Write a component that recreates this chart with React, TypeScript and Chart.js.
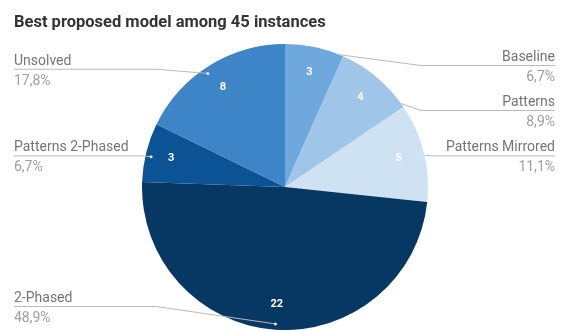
import React, { useEffect, useRef } from "react";
import { Chart, registerables } from "chart.js";

Chart.register(...registerables);

const TITLE = "Best proposed model among 45 instances";
const categories = ["Baseline", "Patterns", "Patterns Mirrored", "2-Phased", "Patterns 2-Phased", "Unsolved"];
const counts = [3, 4, 5, 22, 3, 8];
const sliceColors = ["#6fa8dc", "#9fc5e8", "#cfe2f3", "#073763", "#0b5394", "#3d85c6"];

const FONT = "Roboto, 'Noto Sans', Arial, sans-serif";
const LABEL_TOP = 65;
const LABEL_BOTTOM = 306;
const LABEL_GAP = 45;
const LEFT_X = 14;
const RIGHT_X = 555;

const fmtPct = (v: number, total: number) => ((v / total) * 100).toFixed(1).replace(".", ",") + "%";

const sheetLabels = {
  id: "sheetLabels",
  afterDatasetsDraw(chart: any) {
    const ctx: CanvasRenderingContext2D = chart.ctx;
    const meta = chart.getDatasetMeta(0);
    const data = chart.data.datasets[0].data as number[];
    const labels = chart.data.labels as string[];
    const total = data.reduce((a, b) => a + b, 0);
    ctx.save();

    // title
    ctx.font = `bold 16.5px ${FONT}`;
    ctx.fillStyle = "#333333";
    ctx.textAlign = "left";
    ctx.textBaseline = "alphabetic";
    ctx.fillText(TITLE, LEFT_X, 27);

    const items: any[] = [];
    meta.data.forEach((arc: any, i: number) => {
      const p = arc.getProps(["x", "y", "startAngle", "endAngle", "outerRadius"], true);
      const mid = (p.startAngle + p.endAngle) / 2;
      const R = p.outerRadius;
      ctx.font = `bold 11px ${FONT}`;
      ctx.fillStyle = "#ffffff";
      ctx.textAlign = "center";
      ctx.textBaseline = "middle";
      ctx.fillText(String(data[i]), p.x + Math.cos(mid) * R * 0.82, p.y + Math.sin(mid) * R * 0.82);
      items.push({
        i,
        right: Math.cos(mid) >= 0,
        mid,
        start: p.startAngle,
        end: p.endAngle,
        cx: p.x,
        cy: p.y,
        R,
        desired: p.y + Math.sin(mid) * R + 3,
      });
    });

    [true, false].forEach((side) => {
      const group = items.filter((it) => it.right === side).sort((a, b) => a.desired - b.desired);
      group.forEach((it, k) => {
        let y = Math.min(Math.max(it.desired, LABEL_TOP), LABEL_BOTTOM);
        if (k > 0) y = Math.max(y, group[k - 1].ly + LABEL_GAP);
        it.ly = y;
      });
      for (let k = group.length - 1; k >= 0; k--) {
        const lim = k === group.length - 1 ? LABEL_BOTTOM : group[k + 1].ly - LABEL_GAP;
        group[k].ly = Math.min(group[k].ly, lim);
      }
    });

    items.forEach((it) => {
      const edgeX = it.right ? RIGHT_X : LEFT_X;
      // anchor: where the label's line height meets the rim, kept inside the slice (mid-angle for wide slices)
      let ang = it.mid;
      if (it.end - it.start < Math.PI / 2) {
        const s = Math.max(-1, Math.min(1, (it.ly - it.cy) / it.R));
        let a = it.right ? Math.asin(s) : Math.PI - Math.asin(s);
        while (a < it.start) a += Math.PI * 2;
        while (a > it.start + Math.PI * 2) a -= Math.PI * 2;
        const margin = 0.03;
        if (a > it.end - margin) {
          // choose closer of the two bounds (circular)
          const dEnd = a - (it.end - margin);
          const dStart = it.start + Math.PI * 2 + margin - a;
          a = dEnd < dStart ? it.end - margin : it.start + margin;
        }
        ang = a;
      }
      const inner = it.right ? 1.0 : 0.96;
      const ax = it.cx + Math.cos(ang) * it.R * inner;
      const ay = it.cy + Math.sin(ang) * it.R * inner;
      const elbowX = it.right
        ? Math.max(ax + 8, it.cx + it.R * 0.95)
        : Math.min(ax - 8, it.cx - it.R * 0.9);
      ctx.strokeStyle = "#b9b9b9";
      ctx.lineWidth = 1;
      ctx.beginPath();
      ctx.moveTo(edgeX, it.ly + 0.5);
      ctx.lineTo(elbowX, it.ly + 0.5);
      ctx.lineTo(ax, ay);
      ctx.stroke();
      if (!it.right) {
        ctx.fillStyle = "#e6e6e6";
        ctx.beginPath();
        ctx.arc(ax, ay, 1.5, 0, Math.PI * 2);
        ctx.fill();
      }

      ctx.textAlign = it.right ? "right" : "left";
      ctx.textBaseline = "alphabetic";
      ctx.font = `14px ${FONT}`;
      ctx.fillStyle = "#757575";
      ctx.fillText(labels[it.i], edgeX, it.ly - 4);
      ctx.fillStyle = "#a0a0a0";
      ctx.fillText(fmtPct(data[it.i], total), edgeX, it.ly + 16);
    });
    ctx.restore();
  },
};

export default function App() {
  const ref = useRef<HTMLCanvasElement>(null);
  useEffect(() => {
    if (!ref.current) return;
    const chart = new Chart(ref.current, {
      type: "pie",
      data: {
        labels: categories,
        datasets: [{ data: counts, backgroundColor: sliceColors, borderWidth: 0 }],
      },
      options: {
        animation: false,
        responsive: true,
        maintainAspectRatio: false,
        layout: { padding: { left: 142, right: 134, top: 44, bottom: 1 } },
        plugins: { legend: { display: false }, tooltip: { enabled: false }, title: { display: false } },
      },
      plugins: [sheetLabels],
    });
    return () => chart.destroy();
  }, []);
  return (
    <div style={{ position: "absolute", left: 0, top: 0, width: 562, height: 331, background: "#ffffff" }}>
      <canvas ref={ref} />
    </div>
  );
}
